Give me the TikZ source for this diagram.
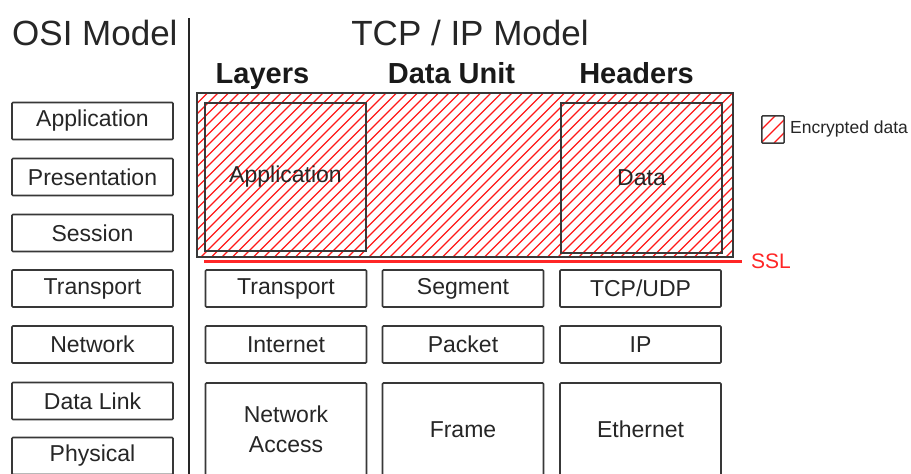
\documentclass[tikz,border=0pt]{standalone}
\usepackage{fontspec}
\setmainfont{Liberation Sans}
\begin{document}
\begin{tikzpicture}[x=1pt,y=-1pt,
  lbl/.style={font=\fontsize{23}{30}\selectfont, text=black!85},
  box/.style={draw=black!78, line width=1.6pt, rounded corners=1pt, inner sep=0pt, lbl},
  osibox/.style={box, minimum width=161pt, minimum height=37pt},
  tcpbox/.style={box, minimum width=161pt, minimum height=37pt},
  bigbox/.style={box, minimum width=161pt, minimum height=93pt, align=center},
  encbox/.style={draw=black!78, line width=1.4pt, inner sep=0pt, lbl},
  hatchred/.style={draw=red!90!white, line width=1.1pt},
  head/.style={font=\fontsize{29}{32}\selectfont\bfseries, inner sep=0pt, text=black!90},
  titletext/.style={font=\fontsize{35}{40}\selectfont, inner sep=0pt, text=black!85},
  ssl/.style={draw=red!85!white, line width=3pt},
]
\clip (0,0) rectangle (911,474);
\fill[white] (0,0) rectangle (911,474);

% titles
\node[titletext, anchor=base west] (osititle) at (12,45) {OSI Model};
\node[titletext, anchor=base] (tcptitle) at (470,45) {TCP / IP Model};
\node[head, anchor=base] (hlayers) at (262.5,83) {Layers};
\node[head, anchor=base] (hunit) at (451.5,83) {Data Unit};
\node[head, anchor=base] (hheaders) at (636.5,83) {Headers};

% separator
\coordinate (septop) at (189,18);
\coordinate (sepbot) at (189,476);
\draw[line width=2pt, black!85] (septop) -- (sepbot);

% OSI column
\node[osibox] (o7) at (92.5,121) {Application};
\node[osibox] (o6) at (92.5,177) {Presentation};
\node[osibox] (o5) at (92.5,233) {Session};
\node[osibox] (o4) at (92.5,288.5) {Transport};
\node[osibox] (o3) at (92.5,344.5) {Network};
\node[osibox] (o2) at (92.5,401) {Data Link};
\node[osibox] (o1) at (92.5,456) {Physical};

% encrypted region
\node[minimum width=536pt, minimum height=164pt, inner sep=0pt] (enc) at (465,175) {};
\begin{scope}
  \clip (enc.north west) rectangle (enc.south east);
  \foreach \i in {0,...,68}
    \draw[hatchred] ({33+\i*10.5},257) -- ++(164,-164);
\end{scope}
\draw[draw=black!78, line width=1.5pt] (enc.north west) rectangle (enc.south east);
\node[encbox, minimum width=161pt, minimum height=148pt] (tapp) at (285.5,177) {Application};
\node[encbox, minimum width=161pt, minimum height=150pt] (tdata) at (641.5,178) {Data};

% SSL line
\coordinate (sslL) at (204,261.5);
\coordinate (sslR) at (742,261.5);
\draw[ssl] (sslL) -- (sslR);
\node[font=\fontsize{21}{24}\selectfont, text=red!85!white, anchor=west, inner sep=0pt] (ssltext) at (751,261) {SSL};

% TCP/IP rows
\node[tcpbox] (t4) at (286,288.5) {Transport};
\node[tcpbox] (u4) at (463,288.5) {Segment};
\node[tcpbox] (h4) at (640.5,288.5) {TCP/UDP};
\node[tcpbox] (t3) at (286,344.5) {Internet};
\node[tcpbox] (u3) at (463,344.5) {Packet};
\node[tcpbox] (h3) at (640.5,344.5) {IP};
\node[bigbox] (t1) at (286,429.5) {Network\\Access};
\node[bigbox] (u1) at (463,429.5) {Frame};
\node[bigbox] (h1) at (640.5,429.5) {Ethernet};

% legend
\node[minimum width=22pt, minimum height=27pt, inner sep=0pt] (leg) at (773,129.5) {};
\begin{scope}
  \clip (leg.north west) rectangle (leg.south east);
  \foreach \k in {-14,-1,12}
    \draw[hatchred] ({762+\k},143) -- ++(30,-30);
\end{scope}
\draw[draw=black!78, line width=1.5pt, rounded corners=1pt] (leg.north west) rectangle (leg.south east);
\node[font=\fontsize{17.5}{20}\selectfont, text=black!85, anchor=west, inner sep=0pt] (legtext) at (790,129) {Encrypted data};
\end{tikzpicture}
\end{document}
